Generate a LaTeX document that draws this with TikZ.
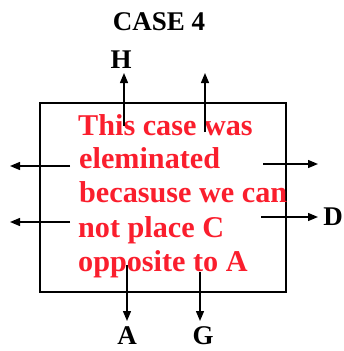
\documentclass[tikz,border=0pt]{standalone}
\usepackage{fontspec}
\setmainfont{Liberation Serif}
\usetikzlibrary{arrows.meta}
\definecolor{txtred}{RGB}{250,30,45}
\begin{document}
\begin{tikzpicture}[x=1pt,y=1pt,
  lbl/.style={font=\fontsize{27}{29}\selectfont\bfseries, inner sep=0pt},
  msg/.style={font=\fontsize{30.2}{34}\selectfont\bfseries, text=txtred, inner sep=0pt, anchor=base west},
  arr/.style={line width=1.3pt, -{Triangle[length=10pt,width=8pt]}},
  boxline/.style={line width=1.3pt}]
\useasboundingbox (0,0) rectangle (344,-351);
\draw[boxline] (40,-103) rectangle (286,-292);
\node[lbl] (case) at (159,-22) {CASE 4};
\node[lbl] (h) at (121,-60) {H};
\node[lbl] (d) at (333,-217) {D};
\node[lbl, anchor=base] (a) at (127,-344) {A};
\node[lbl, anchor=base] (g) at (203,-344) {G};
\node[msg] (l1) at (78,-135) {This case was};
\node[msg] (l2) at (79,-168) {eleminated};
\node[msg] (l3) at (79,-202) {becasuse we can};
\node[msg] (l4) at (78,-237) {not place C};
\node[msg] (l5) at (78,-271) {opposite to A};
\coordinate (u1s) at (124,-126); \coordinate (u1e) at (124,-73);
\coordinate (u2s) at (205,-132); \coordinate (u2e) at (205,-73);
\coordinate (l1s) at (70,-166); \coordinate (l1e) at (10,-166);
\coordinate (l2s) at (70,-222); \coordinate (l2e) at (10,-222);
\coordinate (r1s) at (263,-164); \coordinate (r1e) at (318,-164);
\coordinate (r2s) at (261,-217); \coordinate (r2e) at (318,-217);
\coordinate (d1s) at (127,-265); \coordinate (d1e) at (127,-321);
\coordinate (d2s) at (200,-272); \coordinate (d2e) at (200,-321);
\draw[arr] (u1s) -- (u1e);
\draw[arr] (u2s) -- (u2e);
\draw[arr] (l1s) -- (l1e);
\draw[arr] (l2s) -- (l2e);
\draw[arr] (r1s) -- (r1e);
\draw[arr] (r2s) -- (r2e);
\draw[arr] (d1s) -- (d1e);
\draw[arr] (d2s) -- (d2e);
\end{tikzpicture}
\end{document}
